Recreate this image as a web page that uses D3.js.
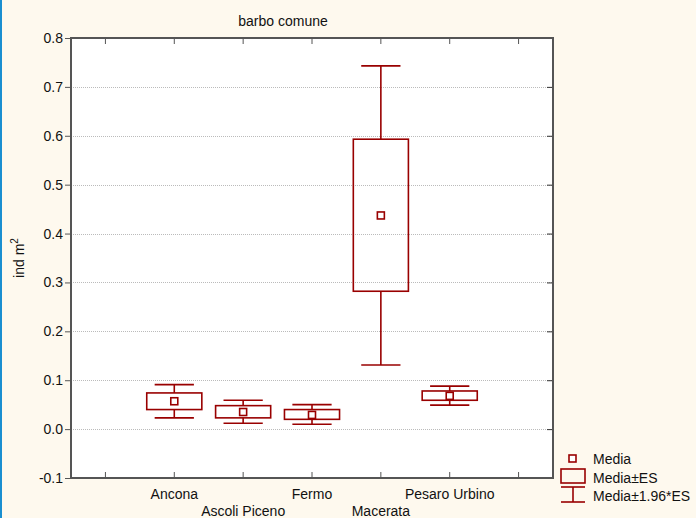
<!DOCTYPE html>
<html>
<head>
<meta charset="utf-8">
<script src="https://cdn.jsdelivr.net/npm/d3@7"></script>
<style>
  body { margin: 0; background: #fef9ee; }
  svg { display: block; font-family: "Liberation Sans", Arial, sans-serif; }
</style>
</head>
<body>
<div id="chart"></div>
<script>
// values
const categories = ["", "Ancona", "Ascoli Piceno", "Fermo", "Macerata", "Pesaro Urbino", " "];
const groups = ["Ancona", "Ascoli Piceno", "Fermo", "Macerata", "Pesaro Urbino"];
const means = [0.057, 0.035, 0.029, 0.437, 0.068];
const esLow = [0.040, 0.023, 0.020, 0.282, 0.059];
const esHigh = [0.074, 0.048, 0.040, 0.593, 0.078];
const ciLow = [0.023, 0.012, 0.010, 0.131, 0.049];
const ciHigh = [0.091, 0.059, 0.050, 0.743, 0.088];
const yTicks = [-0.1, 0.0, 0.1, 0.2, 0.3, 0.4, 0.5, 0.6, 0.7, 0.8];

const width = 696, height = 518;
const margin = {top: 38, right: 143, bottom: 40, left: 71};
const red = "#990000";

const svg = d3.select("#chart").append("svg")
    .attr("width", width)
    .attr("height", height);

// blue strip on the left edge
svg.append("rect").attr("x", 0).attr("y", 0).attr("width", 2).attr("height", height).attr("fill", "#1a8fd0");

const x = d3.scaleBand()
    .domain(categories)
    .range([margin.left, width - margin.right]);

const y = d3.scaleLinear()
    .domain([-0.1, 0.8])
    .range([height - margin.bottom, margin.top]);

const plotW = width - margin.right - margin.left;
const plotH = height - margin.bottom - margin.top;

svg.append("rect")
    .attr("x", margin.left).attr("y", margin.top)
    .attr("width", plotW).attr("height", plotH)
    .attr("fill", "#fff");

// grid
svg.append("g").selectAll("line")
    .data(yTicks.slice(1, -1))
    .enter().append("line")
    .attr("x1", margin.left).attr("x2", width - margin.right)
    .attr("y1", d => Math.round(y(d)) + 0.5).attr("y2", d => Math.round(y(d)) + 0.5)
    .attr("stroke", "#bbb")
    .attr("stroke-dasharray", "1,1");

// axes
const fmt = d => d3.format(".1f")(d).replace("−", "-");
const yAxis = svg.append("g")
    .attr("transform", `translate(${margin.left},0)`)
    .call(d3.axisLeft(y).tickValues(yTicks).tickFormat(fmt).tickSize(6).tickSizeOuter(0));
yAxis.select(".domain").remove();
yAxis.selectAll("text").attr("font-size", 14).attr("fill", "#111").attr("x", -8);
yAxis.selectAll("line").attr("stroke", "#555");

const yAxisR = svg.append("g")
    .attr("transform", `translate(${width - margin.right},0)`)
    .call(d3.axisLeft(y).tickValues(yTicks).tickFormat("").tickSize(6).tickSizeOuter(0));
yAxisR.select(".domain").remove();
yAxisR.selectAll("line").attr("stroke", "#333").attr("x2", -6);

const xTop = svg.append("g")
    .attr("transform", `translate(0,${margin.top})`)
    .call(d3.axisBottom(x).tickFormat("").tickSize(6).tickSizeOuter(0));
xTop.select(".domain").remove();
xTop.selectAll("line").attr("stroke", "#555");

const xBottom = svg.append("g")
    .attr("transform", `translate(0,${height - margin.bottom})`)
    .call(d3.axisTop(x).tickSize(6).tickSizeOuter(0));
xBottom.select(".domain").remove();
xBottom.selectAll("line").attr("stroke", "#555");
xBottom.selectAll("text")
    .attr("font-size", 14)
    .attr("fill", "#111")
    .attr("y", (d, i) => i % 2 === 1 ? 21 : 38);

svg.append("rect")
    .attr("x", margin.left).attr("y", margin.top)
    .attr("width", plotW).attr("height", plotH)
    .attr("fill", "none")
    .attr("stroke", "#555")
    .attr("stroke-width", 2);

// boxes
const bw = x.bandwidth() * 0.8;
const cw = x.bandwidth() * 0.57;
const items = groups.map((g, i) => ({
    name: g, mean: means[i], esLow: esLow[i], esHigh: esHigh[i], ciLow: ciLow[i], ciHigh: ciHigh[i]
}));

const box = svg.append("g").selectAll("g")
    .data(items)
    .enter().append("g")
    .attr("transform", d => `translate(${x(d.name) + x.bandwidth() / 2},0)`)
    .attr("stroke", red)
    .attr("stroke-width", 1.6)
    .attr("fill", "none");

box.append("line")
    .attr("x1", 0).attr("x2", 0)
    .attr("y1", d => y(d.ciHigh)).attr("y2", d => y(d.esHigh));
box.append("line")
    .attr("x1", 0).attr("x2", 0)
    .attr("y1", d => y(d.esLow)).attr("y2", d => y(d.ciLow));
box.append("line")
    .attr("x1", -cw / 2).attr("x2", cw / 2)
    .attr("y1", d => y(d.ciHigh)).attr("y2", d => y(d.ciHigh));
box.append("line")
    .attr("x1", -cw / 2).attr("x2", cw / 2)
    .attr("y1", d => y(d.ciLow)).attr("y2", d => y(d.ciLow));
box.append("rect")
    .attr("x", -bw / 2)
    .attr("y", d => y(d.esHigh))
    .attr("width", bw)
    .attr("height", d => y(d.esLow) - y(d.esHigh));
box.append("rect")
    .attr("x", -3.5)
    .attr("y", d => y(d.mean) - 3.5)
    .attr("width", 7).attr("height", 7)
    .attr("fill", "#fff");

// title and y label
svg.append("text")
    .attr("x", 283)
    .attr("y", 26)
    .attr("text-anchor", "middle")
    .attr("font-size", 14)
    .attr("fill", "#111")
    .text("barbo comune");

const yl = svg.append("text")
    .attr("transform", `translate(24,${margin.top + plotH / 2}) rotate(-90)`)
    .attr("text-anchor", "middle")
    .attr("font-size", 14)
    .attr("fill", "#111");
yl.append("tspan").text("ind m");
yl.append("tspan").attr("dy", -6).attr("font-size", 10).text("2");

// legend
const lg = svg.append("g").attr("transform", "translate(561,452)");
lg.append("rect").attr("x", 8).attr("y", 3).attr("width", 7).attr("height", 7)
    .attr("fill", "#fff").attr("stroke", red).attr("stroke-width", 1.6);
lg.append("rect").attr("x", 0).attr("y", 17).attr("width", 24).attr("height", 14)
    .attr("fill", "none").attr("stroke", red).attr("stroke-width", 1.6);
lg.append("line").attr("x1", 0).attr("x2", 24).attr("y1", 35).attr("y2", 35).attr("stroke", red).attr("stroke-width", 1.6);
lg.append("line").attr("x1", 0).attr("x2", 24).attr("y1", 50).attr("y2", 50).attr("stroke", red).attr("stroke-width", 1.6);
lg.append("line").attr("x1", 12).attr("x2", 12).attr("y1", 35).attr("y2", 50).attr("stroke", red).attr("stroke-width", 1.6);
const legendLabels = ["Media", "Media±ES", "Media±1.96*ES"];
lg.selectAll(".lt")
    .data(legendLabels)
    .enter().append("text")
    .attr("class", "lt")
    .attr("x", 32)
    .attr("y", (d, i) => 12 + i * 18.5)
    .attr("font-size", 14)
    .attr("fill", "#111")
    .text(d => d);
</script>
</body>
</html>
